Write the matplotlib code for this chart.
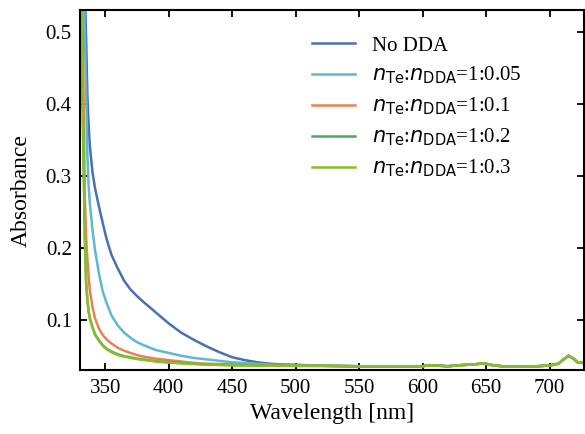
import matplotlib
matplotlib.use("Agg")
import matplotlib.pyplot as plt
import numpy as np

plt.rcParams['font.family'] = ['Liberation Serif', 'DejaVu Serif']
plt.rcParams['mathtext.fontset'] = 'dejavusans'

# wavelength grid (nm)
wl_head = [331, 332, 334, 335, 336, 337, 338, 340, 342, 345, 348, 351, 355, 360, 365,
           370, 375, 380, 390, 400, 410, 420, 430, 440, 450, 460, 470, 480, 490, 500]
wl_tail = [525, 550, 575, 600, 605, 610, 620, 630, 640, 648, 655, 665, 675, 690,
           700, 707, 711, 715, 719, 722, 727]

no_dda = [0.90, 0.75, 0.56, 0.49, 0.41, 0.37, 0.34, 0.305, 0.283, 0.258, 0.235, 0.213,
          0.190, 0.171, 0.154, 0.142, 0.133, 0.125, 0.110, 0.095, 0.082, 0.072,
          0.063, 0.055, 0.048, 0.044, 0.041, 0.039, 0.038, 0.0375]
r005 = [0.85, 0.70, 0.50, 0.42, 0.33, 0.285, 0.26, 0.225, 0.197, 0.165, 0.140, 0.124,
        0.106, 0.092, 0.082, 0.075, 0.069, 0.065, 0.058, 0.054, 0.050, 0.047,
        0.045, 0.043, 0.041, 0.040, 0.039, 0.038, 0.0375, 0.037]
r01 = [0.78, 0.55, 0.27, 0.215, 0.185, 0.16, 0.14, 0.118, 0.102, 0.088, 0.079, 0.073,
       0.067, 0.061, 0.057, 0.054, 0.051, 0.049, 0.046, 0.044, 0.042, 0.040,
       0.039, 0.0385, 0.038, 0.0375, 0.037, 0.0368, 0.0365, 0.0362]
r02 = [0.68, 0.42, 0.21, 0.15, 0.128, 0.112, 0.102, 0.090, 0.080, 0.072, 0.065, 0.060,
       0.056, 0.052, 0.0495, 0.048, 0.046, 0.045, 0.0425, 0.041, 0.040, 0.039,
       0.038, 0.0375, 0.037, 0.0368, 0.0365, 0.0363, 0.0361, 0.036]
r03 = [0.70, 0.44, 0.22, 0.155, 0.127, 0.111, 0.101, 0.089, 0.079, 0.071, 0.064, 0.059,
       0.055, 0.051, 0.0488, 0.047, 0.0455, 0.0445, 0.042, 0.0405, 0.0395, 0.0385,
       0.0378, 0.0372, 0.0368, 0.0366, 0.0364, 0.0362, 0.036, 0.036]
tail = [0.036, 0.0355, 0.0355, 0.0355, 0.037, 0.0365, 0.0355, 0.037, 0.038, 0.0395,
        0.037, 0.035, 0.035, 0.0355, 0.0365, 0.039, 0.045, 0.050, 0.046, 0.041, 0.040]

labels = ['No DDA',
          r'$n_{\mathrm{Te}}$:$n_{\mathrm{DDA}}$=1:0.05',
          r'$n_{\mathrm{Te}}$:$n_{\mathrm{DDA}}$=1:0.1',
          r'$n_{\mathrm{Te}}$:$n_{\mathrm{DDA}}$=1:0.2',
          r'$n_{\mathrm{Te}}$:$n_{\mathrm{DDA}}$=1:0.3']
colors = ['#4a6fb3', '#5cb8d6', '#e8834f', '#4ea864', '#8dbc2b']

wl = np.array(wl_head + wl_tail)

fig = plt.figure(figsize=(5.85, 4.34), dpi=100)
ax = fig.add_axes([0.137, 0.147, 0.861, 0.830])

for ys, lab, c in zip([no_dda, r005, r01, r02, r03], labels, colors):
    ax.plot(wl, np.array(ys + tail), color=c, lw=1.8, label=lab)

ax.set_xlim(330.3, 727)
ax.set_ylim(0.03, 0.53)
ax.set_xticks([350, 400, 450, 500, 550, 600, 650, 700])
ax.set_yticks([0.1, 0.2, 0.3, 0.4, 0.5])
ax.tick_params(direction='in', top=True, right=True, length=5, width=1.3,
               labelsize=15, pad=6)
for s in ax.spines.values():
    s.set_linewidth(1.5)

ax.set_xlabel('Wavelength [nm]', fontsize=17)
ax.set_ylabel('Absorbance', fontsize=17, labelpad=10)

ax.legend(loc='upper right', frameon=False, fontsize=15, handlelength=2.1,
          handletextpad=0.8, bbox_to_anchor=(0.914, 0.98), labelspacing=0.45)

fig.savefig('out.png', dpi=100)
